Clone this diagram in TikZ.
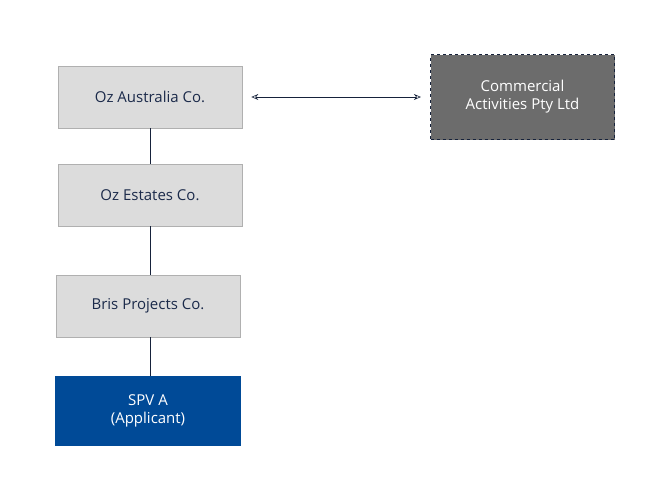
\documentclass[tikz,border=0pt]{standalone}
\usepackage{fontspec}
\setmainfont{Open Sans}
\usetikzlibrary{arrows.meta}
\definecolor{navy}{HTML}{1B2A4A}
\definecolor{boxg}{HTML}{DCDCDC}
\definecolor{spv}{HTML}{004A97}
\begin{document}
\begin{tikzpicture}[x=1pt,y=-1pt,
  ent/.style={draw=boxg!80!black,fill=boxg,minimum width=184pt,minimum height=62pt,text=navy,font=\fontsize{15}{18}\selectfont,align=center,line width=0.6pt},
  conn/.style={draw=navy!80!black,line width=0.6pt}]
\useasboundingbox (0,0) rectangle (668,499);
\node[ent] (oz) at (150,97) {Oz Australia Co.};
\node[ent] (est) at (150,195) {Oz Estates Co.};
\node[ent] (bris) at (148,306) {Bris Projects Co.};
\node[ent,fill=spv,draw=spv,text=white,minimum height=69pt,minimum width=185pt] (spv) at (148,410.5) {SPV A\\(Applicant)};
\node[ent,fill=gray!85!black,draw=navy!80!black,dashed,line width=1.2pt,text=white,minimum width=184pt,minimum height=85pt] (com) at (522.5,97) {Commercial\\Activities Pty Ltd};
\draw[conn] (oz.south) -- (est.north);
\draw[conn] (150,226) -- (150,275);
\draw[conn] (150,337) -- (150,376);
\draw[conn,{Stealth[length=7pt,width=6pt,open]}-{Stealth[length=7pt,width=6pt,open]}] ([xshift=9pt]oz.east) -- ([xshift=-9pt]com.west);
\end{tikzpicture}
\end{document}
